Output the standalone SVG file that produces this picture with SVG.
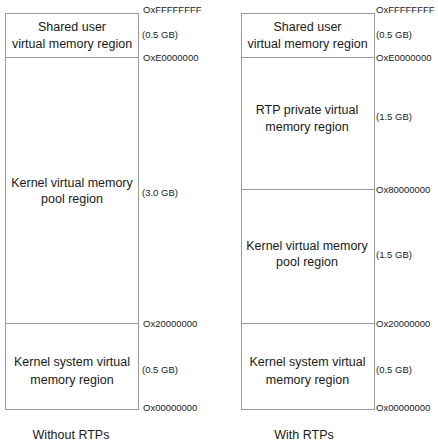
<svg xmlns="http://www.w3.org/2000/svg" width="438" height="442" viewBox="0 0 438 442">
<style>
.box{fill:#fff;stroke:#9a9a9a;stroke-width:1}
.t{font-family:"Liberation Sans",Arial,sans-serif;font-size:12.5px;fill:#1a1a1a;text-anchor:middle}
.a{font-family:"Liberation Sans",Arial,sans-serif;font-size:9.5px;fill:#1a1a1a}
.c{font-family:"Liberation Sans",Arial,sans-serif;font-size:12.5px;fill:#1a1a1a;text-anchor:middle}
</style>
<rect width="438" height="442" fill="#fff"/>
<g id="left-map">
<g id="left-shared"><rect class="box" x="5.5" y="13.5" width="133" height="44"/>
<text class="t" x="72" y="31">Shared user</text><text class="t" x="72" y="48">virtual memory region</text></g>
<g id="left-kpool"><rect class="box" x="5.5" y="57.5" width="133" height="266"/>
<text class="t" x="72" y="187">Kernel virtual memory</text><text class="t" x="72" y="203">pool region</text></g>
<g id="left-ksys"><rect class="box" x="5.5" y="323.5" width="133" height="86"/>
<text class="t" x="72" y="366">Kernel system virtual</text><text class="t" x="72" y="384">memory region</text></g>
<g id="left-labels">
<text class="a" x="143" y="13">OxFFFFFFFF</text>
<text class="a" x="142" y="38">(0.5 GB)</text>
<text class="a" x="143" y="61">OxE0000000</text>
<text class="a" x="142" y="195.5">(3.0 GB)</text>
<text class="a" x="143" y="327">Ox20000000</text>
<text class="a" x="142" y="372.5">(0.5 GB)</text>
<text class="a" x="143" y="411">Ox00000000</text>
</g>
<text class="c" x="71" y="439">Without RTPs</text>
</g>
<g id="right-map">
<g id="right-shared"><rect class="box" x="241.5" y="13.5" width="133" height="44"/>
<text class="t" x="307.5" y="31">Shared user</text><text class="t" x="307.5" y="48">virtual memory region</text></g>
<g id="right-rtp"><rect class="box" x="241.5" y="57.5" width="133" height="132"/>
<text class="t" x="307" y="114">RTP private virtual</text><text class="t" x="307" y="131">memory region</text></g>
<g id="right-kpool"><rect class="box" x="241.5" y="189.5" width="133" height="134"/>
<text class="t" x="307" y="250">Kernel virtual memory</text><text class="t" x="307" y="266">pool region</text></g>
<g id="right-ksys"><rect class="box" x="241.5" y="323.5" width="133" height="86"/>
<text class="t" x="307.5" y="366">Kernel system virtual</text><text class="t" x="307.5" y="384">memory region</text></g>
<g id="right-labels">
<text class="a" x="376" y="13">OxFFFFFFFF</text>
<text class="a" x="376" y="38">(0.5 GB)</text>
<text class="a" x="376" y="61">OxE0000000</text>
<text class="a" x="376" y="119.5">(1.5 GB)</text>
<text class="a" x="376" y="193">Ox80000000</text>
<text class="a" x="376" y="258">(1.5 GB)</text>
<text class="a" x="376" y="327">Ox20000000</text>
<text class="a" x="376" y="372.5">(0.5 GB)</text>
<text class="a" x="376" y="411">Ox00000000</text>
</g>
<text class="c" x="304" y="439">With RTPs</text>
</g>
</svg>
